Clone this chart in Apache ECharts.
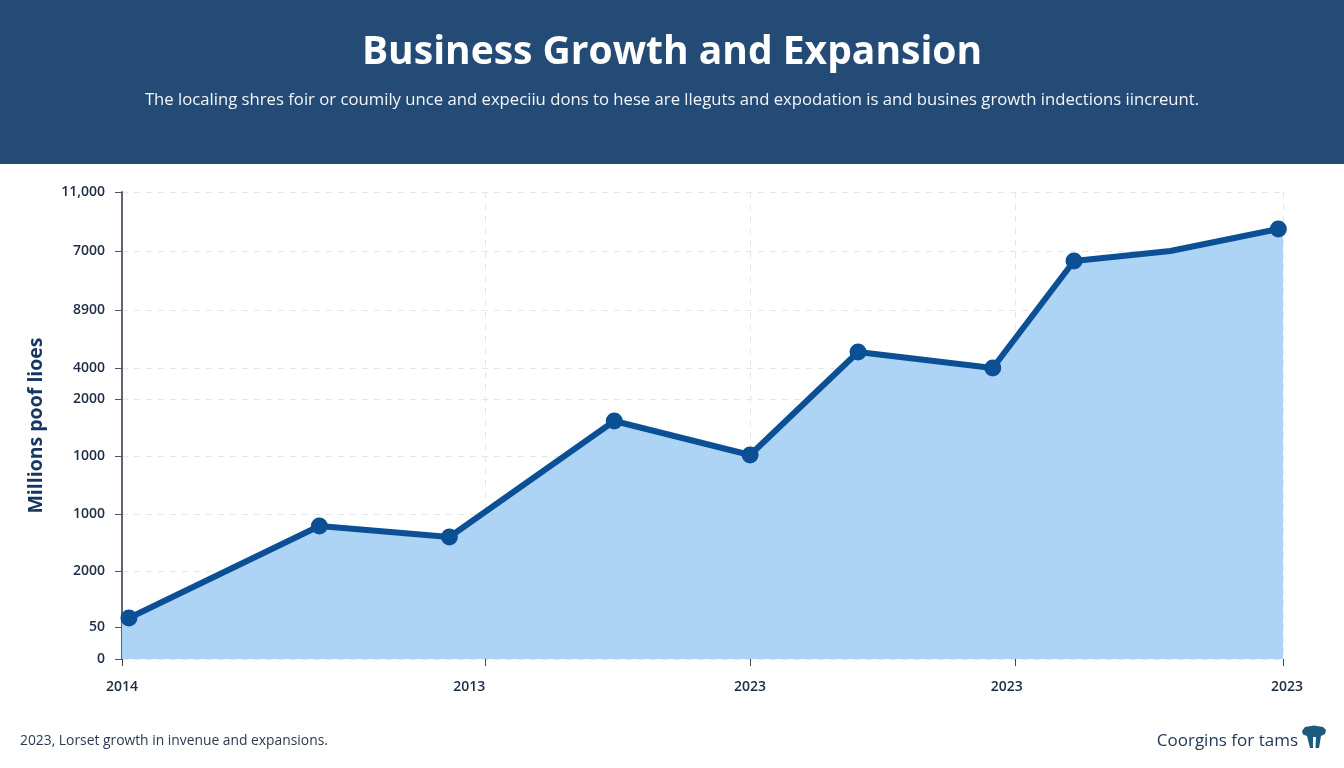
<!DOCTYPE html>
<html>
<head>
<meta charset="utf-8">
<style>html,body{margin:0;padding:0;background:#fff}#chart{width:1344px;height:768px}</style>
<script src="https://cdn.jsdelivr.net/npm/echarts@6/dist/echarts.min.js"></script>
</head>
<body>
<div id="chart"></div>
<script>
// Horizontal position of each reading along the timeline, 0 to 100.
const timelinePositions = [0.6, 17.0, 28.2, 42.4, 54.1, 63.4, 75.0, 82.0, 90.3, 99.6];
const revenueValues = [966, 3133, 2874, 5606, 4805, 7231, 6855, 9375, 9610, 10128];
// The ninth reading is a plain bend in the line, without a marker.
const unmarkedReadings = [8];

// Tick places and printed labels.
const yTickValues = [0, 754, 2073, 3415, 4782, 6124, 6855, 8221, 9610, 11000];
const yTickLabels = ['0', '50', '2000', '1000', '1000', '2000', '4000', '8900', '7000', '11,000'];
const xTickValues = [0, 31.3, 54.1, 76.9, 100];
const xLabelValues = [0, 29.9, 54.1, 76.2, 100];
const xTickLabels = ['2014', '2013', '2023', '2023', '2023'];

// Fill reaches both edges of the plot, the line stops at its first and last markers.
const areaEdgeStart = [0, 966];
const areaEdgeEnd = [100, 10128];

const FONT = '"Open Sans", "Noto Sans", sans-serif';
const LINE = '#0b4f94';
const INK = '#1b2c45';

const linePoints = timelinePositions.map((x, i) => [x, revenueValues[i]]);
const areaPoints = [areaEdgeStart, ...linePoints, areaEdgeEnd];

const chart = echarts.init(document.getElementById('chart'), null, { renderer: 'canvas' });
chart.setOption({
  animation: false,
  backgroundColor: '#fff',
  title: [
    {
      text: 'Business Growth and Expansion', left: 'center', top: 28,
      textStyle: { color: '#fff', fontFamily: FONT, fontWeight: 700, fontSize: 39 }
    },
    {
      text: 'The localing shres foir or coumily unce and expeciiu dons to hese are lleguts and expodation is and busines growth indections iincreunt.',
      left: 'center', top: 87,
      textStyle: { color: '#f2f5f9', fontFamily: FONT, fontWeight: 400, fontSize: 16.7 }
    },
    {
      text: '2023, Lorset growth in invenue and expansions.', left: 15, top: 729,
      textStyle: { color: '#2b3a4e', fontFamily: FONT, fontWeight: 400, fontSize: 13.85 }
    },
    {
      text: 'Coorgins for tams', right: 41, top: 728,
      textStyle: { color: '#1c3558', fontFamily: FONT, fontWeight: 400, fontSize: 17 }
    }
  ],
  graphic: [
    {
      type: 'rect', z: -1, silent: true,
      shape: { x: 0, y: 0, width: 1344, height: 164 },
      style: { fill: '#234b76' }
    },
    {
      // Brand mark beside the footer name.
      type: 'polygon', silent: true,
      shape: {
        points: [[1302, 731], [1305, 727], [1314, 725.5], [1323, 727], [1326, 730], [1325, 734], [1321, 736], [1319, 748], [1315.5, 748], [1316, 737], [1313, 737], [1313, 748], [1310, 748], [1307, 736], [1303, 734.5]]
      },
      style: { fill: '#1d5a80' }
    }
  ],
  grid: { left: 122, right: 61, top: 192, bottom: 109, containLabel: false },
  xAxis: {
    type: 'value', min: 0, max: 100,
    axisLine: { show: false },
    axisTick: { show: true, customValues: xTickValues, length: 7, lineStyle: { color: '#3c4654', width: 1 } },
    axisLabel: {
      show: true, customValues: xLabelValues, margin: 21, showMinLabel: true, showMaxLabel: true,
      color: INK, fontFamily: FONT, fontWeight: 600, fontSize: 14,
      // The closing year sits a little past the end of the plot.
      formatter: (v) => {
        const text = xTickLabels[xLabelValues.indexOf(v)] ?? '';
        return v === 100 ? '{last|' + text + '}' : text;
      },
      rich: { last: { padding: [0, 0, 0, 8], color: INK, fontFamily: FONT, fontWeight: 600, fontSize: 14 } }
    },
    splitLine: { show: true, customValues: xTickValues, lineStyle: { color: '#e6e7ea', type: [6, 6], width: 1 } }
  },
  yAxis: {
    type: 'value', min: 0, max: 11000,
    name: 'Millions poof lioes', nameLocation: 'middle', nameGap: 76, nameRotate: 90,
    nameTextStyle: { color: '#16365f', fontFamily: FONT, fontWeight: 700, fontSize: 19.5 },
    axisLine: { show: true, lineStyle: { color: '#5b6573', width: 2 } },
    axisTick: { show: true, customValues: yTickValues, length: 7, lineStyle: { color: '#4d5766', width: 1 } },
    axisLabel: {
      show: true, customValues: yTickValues, margin: 17, showMinLabel: true, showMaxLabel: true,
      color: INK, fontFamily: FONT, fontWeight: 600, fontSize: 14,
      formatter: (v) => yTickLabels[yTickValues.indexOf(v)] ?? ''
    },
    splitLine: { show: true, customValues: yTickValues, lineStyle: { color: '#e6e7ea', type: [6, 6], width: 1 } }
  },
  series: [
    {
      type: 'line', data: areaPoints, showSymbol: false, silent: true,
      lineStyle: { width: 0, opacity: 0 },
      areaStyle: { color: '#abd3f5', opacity: 0.97 }, z: 2
    },
    {
      type: 'line', data: linePoints, showAllSymbol: true, symbol: (v, p) => unmarkedReadings.includes(p.dataIndex) ? 'none' : 'circle',
      symbolSize: 17,
      lineStyle: { color: LINE, width: 6 },
      itemStyle: { color: LINE }, z: 3
    }
  ]
});
</script>
</body>
</html>
